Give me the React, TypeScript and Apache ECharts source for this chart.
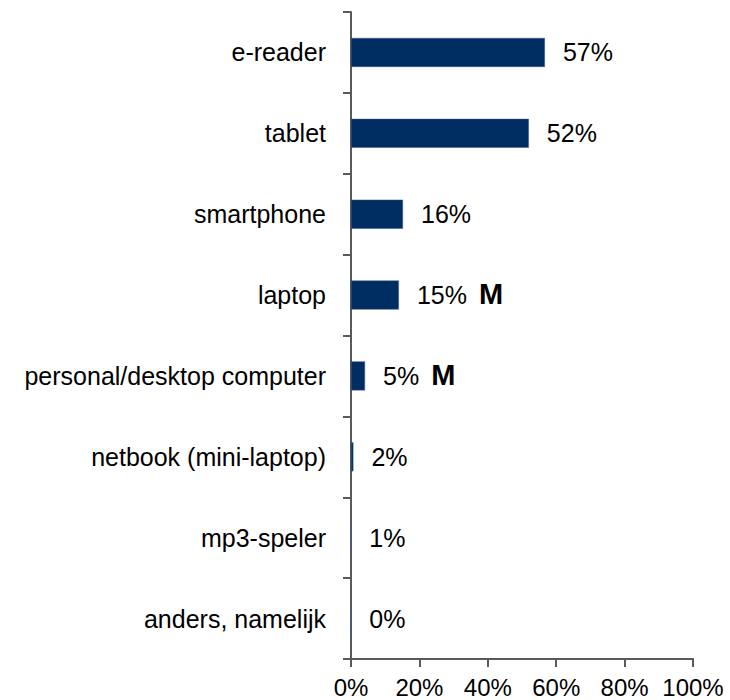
import React, { useEffect, useRef } from "react";
import * as echarts from "echarts";

const categories = [
  "e-reader",
  "tablet",
  "smartphone",
  "laptop",
  "personal/desktop computer",
  "netbook (mini-laptop)",
  "mp3-speler",
  "anders, namelijk",
];
// bar lengths as drawn (percent)
const barValues = [56.7, 52.0, 15.2, 14.0, 4.1, 0.7, 0, 0];
// printed value labels
const valueLabels = ["57%", "52%", "16%", "15%", "5%", "2%", "1%", "0%"];
const markers = ["", "", "", "M", "M", "", "", ""];
const xTicks = [0, 20, 40, 60, 80, 100];

export default function App() {
  const ref = useRef<HTMLDivElement>(null);
  useEffect(() => {
    if (!ref.current) return;
    const chart = echarts.init(ref.current, null, { renderer: "svg" });
    const font = "'Liberation Sans', Arial, sans-serif";
    chart.setOption({
      animation: false,
      grid: { left: 351, right: 37, top: 12, bottom: 41, containLabel: false },
      xAxis: {
        type: "value",
        min: xTicks[0],
        max: xTicks[xTicks.length - 1],
        interval: 20,
        axisLine: { show: true, lineStyle: { color: "#5a5a5a", width: 2 } },
        axisTick: { show: true, length: 8, lineStyle: { color: "#5a5a5a", width: 2 } },
        splitLine: { show: false },
        axisLabel: {
          formatter: (v: number) => `${v}%`,
          fontSize: 24,
          fontFamily: font,
          color: "#000",
          margin: 16,
        },
      },
      yAxis: {
        type: "category",
        data: categories,
        inverse: true,
        axisLine: { show: true, lineStyle: { color: "#5a5a5a", width: 2 } },
        axisTick: { show: true, length: 8, lineStyle: { color: "#5a5a5a", width: 2 } },
        axisLabel: {
          fontSize: 25,
          fontFamily: font,
          color: "#000",
          margin: 25,
        },
      },
      series: [
        {
          type: "bar",
          data: barValues,
          barWidth: 29,
          itemStyle: { color: "#002D62", borderColor: "#3a5d8c", borderWidth: 0.5 },
          label: {
            show: true,
            position: "right",
            distance: 18,
            formatter: (p: any) => {
              const i = p.dataIndex;
              return markers[i]
                ? `{v|${valueLabels[i]}}{m|${markers[i]}}`
                : `{v|${valueLabels[i]}}`;
            },
            rich: {
              v: { fontSize: 25, fontFamily: font, color: "#000" },
              m: {
                fontSize: 29,
                fontWeight: "bold",
                fontFamily: font,
                color: "#000",
                padding: [0, 0, 2, 12],
              },
            },
          },
        },
      ],
    });
    return () => chart.dispose();
  }, []);
  return (
    <div
      ref={ref}
      style={{ position: "fixed", left: 0, top: 0, width: 730, height: 700, background: "#fff" }}
    />
  );
}
